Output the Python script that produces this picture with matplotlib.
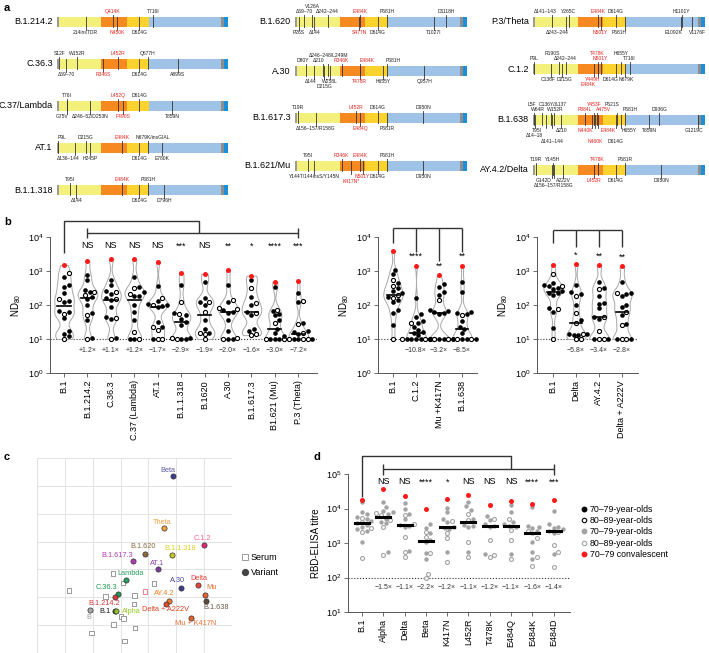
import re

import matplotlib
matplotlib.use("Agg")
import matplotlib.pyplot as plt
import numpy as np
from matplotlib.lines import Line2D
from matplotlib.ticker import LogLocator, NullLocator

plt.rcParams["font.family"] = ["Liberation Sans", "DejaVu Sans"]
plt.rcParams["axes.linewidth"] = 0.7

W, H = 709, 653

# ---------------- panel a: spike maps ----------------
SPIKE_LEN = 1273
DOMAIN_EDGES = [0, 14, 330, 520, 685, 1220, 1245, 1273]
DOMAIN_COLORS = ["#9b9b9b", "#f3f17c", "#f68a20", "#fcd32e", "#9ec3e7", "#8e8e8e", "#1c8fd8"]
RBD_RANGE = (319, 541)

MUT_B1_214_2 = ["214insTDR", "Q414K", "N450K", "D614G", "T716I"]
MUT_C36_3 = ["S12F", "Δ69–70", "W152R", "R346S", "L452R", "D614G", "Q677H", "A899S"]
MUT_C37 = ["G75V", "T76I", "Δ246–52/D253N", "L452Q", "F490S", "D614G", "T859N"]
MUT_AT1 = ["P9L", "Δ136–144", "D215G", "H245P", "E484K", "D614G", "N679K/insGIAL", "E780K"]
MUT_B1_1_318 = ["T95I", "Δ144", "E484K", "D614G", "P681H", "D796H"]
MUT_B1_620 = ["P26S", "Δ69–70", "V126A", "Δ144", "Δ242–244", "S477N", "E484K", "D614G",
              "P681H", "T1027I", "D1118H"]
MUT_A30 = ["D80Y", "Δ144", "Δ210", "D215G", "Δ246–248/L249M", "W258L", "R346K", "T478R",
           "E484K", "H655Y", "P681H", "Q957H"]
MUT_B1_617_3 = ["T19R", "Δ156–157/R158G", "L452R", "E484Q", "D614G", "P681R", "D950N"]
MUT_MU = ["T95I", "Y144T/144insS/Y145N", "R346K", "K417N*", "E484K", "N501Y", "D614G",
          "P681H", "D950N"]
MUT_P3 = ["Δ141–143", "Δ243–244", "Y265C", "E484K", "N501Y", "D614G", "P681H", "E1092K",
          "H1101Y", "V1176F"]
MUT_C1_2 = ["P9L", "C136F", "R190S", "D215G", "Δ242–244", "Y449H", "T478K", "E484K", "N501Y",
            "D614G", "H655Y", "N679K", "T716I"]
MUT_B1_638 = ["L5F", "Δ14–18", "W64R", "T95I", "C136Y/Δ137", "Δ141–144", "W152R", "Δ210",
              "P384L", "N440K", "Y453F", "N460K", "A475V", "E484K", "D614G", "P621S", "H655Y",
              "P681H", "T859N", "D936G", "G1219C"]
MUT_AY4_2 = ["T19R", "G142D", "Y145H", "Δ156–157/R158G", "A222V", "L452R", "T478K", "D614G",
             "P681R", "D950N"]

# label side (u/d) and tier for each mutation, same order as above
PLACE = {
    "B.1.214.2": ["d1", "u1", "d1", "d1", "u1"],
    "C.36.3": ["u1", "d1", "u1", "d1", "u1", "d1", "u1", "d1"],
    "C.37/Lambda": ["d1", "u1", "d1", "u1", "d1", "u1", "d1"],
    "AT.1": ["u1", "d1", "u1", "d1", "u1", "d1", "u1", "d1"],
    "B.1.1.318": ["u1", "d1", "u1", "d1", "u1", "d1"],
    "B.1.620": ["d1", "u1", "u2", "d1", "u1", "d1", "u1", "d1", "u1", "d1", "u1"],
    "A.30": ["u1", "d1", "u1", "d2", "u2", "d1", "u1", "d1", "u1", "d1", "u1", "d1"],
    "B.1.617.3": ["u1", "d1", "u1", "d1", "u1", "d1", "u1"],
    "B.1.621/Mu": ["u1", "d1", "u1", "d2", "u1", "d1", "d1", "u1", "d1"],
    "P.3/Theta": ["u1", "d1", "u1", "u1", "d1", "u1", "d1", "d1", "u1", "d1"],
    "C.1.2": ["u1", "d1", "u2", "d1", "u1", "d1", "u2", "d2", "u1", "d1", "u2", "d1", "u1"],
    "B.1.638": ["u2", "d2", "u1", "d1", "u2", "d3", "u1", "d1", "u1", "d1", "u2", "d3", "u1",
                "d1", "d3", "u2", "d1", "u1", "d1", "u1", "d1"],
    "AY.4.2/Delta": ["u1", "d1", "u1", "d2", "d1", "d1", "u1", "d1", "u1", "d1"],
}
NUDGE = {
    ("C.37/Lambda", "G75V"): -37, ("AT.1", "P9L"): 30, ("AT.1", "Δ136–144"): -52,
    ("AT.1", "N679K/insGIAL"): 37, ("A.30", "D80Y"): -22, ("A.30", "Δ210"): -35,
    ("A.30", "E484K"): 52, ("A.30", "P681H"): 44, ("A.30", "Δ144"): -30,
    ("P.3/Theta", "Δ141–143"): -52, ("P.3/Theta", "Δ243–244"): -65,
    ("P.3/Theta", "P681H"): -45, ("P.3/Theta", "E1092K"): -52, ("P.3/Theta", "V1176F"): 45,
    ("C.1.2", "R190S"): -45, ("C.1.2", "E484K"): -74, ("C.1.2", "D614G"): -40,
    ("C.1.2", "C136F"): -22, ("C.1.2", "D215G"): 15, ("C.1.2", "Y449H"): -8,
    ("C.1.2", "N679K"): 14, ("B.1.638", "L5F"): -12, ("B.1.638", "W64R"): -25,
    ("B.1.638", "C136Y/Δ137"): 12, ("B.1.638", "W152R"): 12, ("B.1.638", "P621S"): -37,
    ("B.1.638", "A475V"): 44, ("B.1.638", "P681H"): 37, ("B.1.638", "T95I"): -65,
    ("B.1.638", "N440K"): -52, ("B.1.638", "E484K"): 74, ("B.1.638", "H655Y"): 60,
    ("B.1.638", "G1219C"): -30, ("AY.4.2/Delta", "G142D"): -65, ("C.36.3", "S12F"): 10,
}

A_COLUMNS = [
    [("B.1.214.2", MUT_B1_214_2), ("C.36.3", MUT_C36_3), ("C.37/Lambda", MUT_C37),
     ("AT.1", MUT_AT1), ("B.1.1.318", MUT_B1_1_318)],
    [("B.1.620", MUT_B1_620), ("A.30", MUT_A30), ("B.1.617.3", MUT_B1_617_3),
     ("B.1.621/Mu", MUT_MU)],
    [("P.3/Theta", MUT_P3), ("C.1.2", MUT_C1_2), ("B.1.638", MUT_B1_638),
     ("AY.4.2/Delta", MUT_AY4_2)],
]

# ---------------- panel b: ND80 ----------------
B1_CATS = ["B.1", "B.1.214.2", "C.36.3", "C.37 (Lambda)", "AT.1", "B.1.1.318", "B.1620",
           "A.30", "B.1.617.3", "B1.621 (Mu)", "P.3 (Theta)"]
B1_70 = [
    [680, 390, 330, 220, 135, 125, 66, 63, 41, 17, 14, 12],
    [760, 550, 275, 235, 175, 150, 100, 60, 36, 11],
    [550, 390, 260, 205, 160, 140, 90, 45, 39, 11],
    [680, 345, 235, 190, 180, 100, 63, 36, 10, 10],
    [360, 130, 105, 100, 93, 88, 31, 22, 10],
    [390, 57, 50, 40, 32, 25, 11, 10, 10],
    [490, 158, 125, 100, 36, 20, 15],
    [390, 120, 71, 63, 60, 36, 17, 10, 10],
    [550, 175, 100, 63, 50, 20, 17],
    [345, 66, 53, 51, 36, 20, 15, 10, 10, 10, 10],
    [220, 125, 29, 17, 16, 14, 12, 10, 10, 10],
]
B1_80 = [
    [850, 150, 56, 10],
    [240, 200, 52, 10],
    [245, 148, 42, 10],
    [310, 205, 16, 10],
    [165, 100, 23, 18, 10, 10],
    [126, 53, 11, 10],
    [120, 63, 15, 14, 10],
    [140, 80, 76, 10.5, 10],
    [310, 112, 60, 14, 13],
    [71, 29, 10, 10],
    [130, 27, 15, 10, 10, 10],
]
B1_CONV = [1500, 1950, 2250, 2200, 1900, 850, 820, 1100, 730, 490, 510]
B1_FOLD = ["", "+1.2×", "+1.1×", "+1.2×", "−1.7×", "−2.9×", "−1.9×", "−2.0×", "−1.6×",
           "−3.0×", "−7.2×"]
B1_SIG = ["", "NS", "NS", "NS", "NS", "***", "NS", "**", "*", "****", "***"]

B2_CATS = ["B.1", "C.1.2", "Mu +K417N", "B.1.638"]
B2_70 = [
    [1070, 800, 440, 325, 260, 220, 175, 140, 120, 71, 57, 26],
    [165, 53, 45, 34, 29, 23, 18, 16, 15, 13, 10, 10, 10, 10, 10],
    [405, 345, 235, 195, 71, 65, 62, 57, 55, 10, 10, 10, 10],
    [490, 245, 63, 60, 55, 34, 23, 20, 15, 10, 10, 10, 10],
]
B2_80 = [
    [550, 360, 195, 165, 10],
    [30, 10, 10, 10],
    [140, 10, 10, 10],
    [51, 10, 10, 10],
]
B2_CONV = [4000, 1450, 760, 1450]
B2_FOLD = ["", "−10.8×", "−3.2×", "−8.5×"]
B2_SIG = ["", "****", "**", "**"]

B3_CATS = ["B.1", "Delta", "AY.4.2", "Delta + A222V"]
B3_70 = [
    [435, 400, 360, 325, 300, 260, 230, 220, 200, 80, 63, 21],
    [390, 235, 215, 100, 36, 14, 14, 13, 13],
    [465, 310, 190, 112, 110, 80, 45, 38, 10, 10],
    [490, 220, 210, 180, 100, 85, 51, 27, 10, 10],
]
B3_80 = [
    [810, 360, 76, 10],
    [190, 57, 29, 14, 10, 10],
    [290, 43, 17, 10, 10],
    [220, 63, 25, 10, 10],
]
B3_CONV = [1500, 1600, 1500, 1400]
B3_FOLD = ["", "−5.8×", "−3.4×", "−2.8×"]
B3_SIG = ["", "*", "**", "**"]

# ---------------- panel c: antigenic map ----------------
C_VARIANTS = ["B.1", "Alpha", "Beta", "Theta", "C.1.2", "B.1.620", "B.1.1.318", "B.1.617.3",
              "AT.1", "Lambda", "A.30", "Delta", "Mu", "C.36.3", "B.1.214.2", "AY.4.2",
              "B.1.638", "Delta + A222V", "Mu + K417N", "B"]
C_VAR_X = [2.80, 2.85, 4.89, 4.57, 5.99, 3.87, 4.86, 3.43, 4.34, 3.21, 5.16, 5.77, 6.04, 2.89,
           2.80, 4.74, 6.07, 4.62, 5.53, 1.89]
C_VAR_Y = [1.49, 1.49, 6.34, 4.48, 3.88, 3.57, 3.51, 3.30, 3.00, 2.63, 2.34, 2.44, 2.09, 2.11,
           2.00, 1.88, 1.87, 1.75, 1.27, 1.56]
C_MARKER_COLORS = ["#222222", "#8ec02a", "#3a3d8f", "#f4a23c", "#e0287a", "#8a6a3c", "#c8c820",
                   "#b03ab0", "#7a3a9a", "#22a060", "#3d3d8a", "#e8403a", "#e8602a", "#1a9a50",
                   "#d83838", "#f07828", "#5a4a3a", "#e04a2a", "#e8602a", "#aaaaaa"]
C_LABEL_COLORS = ["#111111", "#9ac820", "#5a5aa8", "#f4a23c", "#ff6090", "#8a6a3c", "#e0d020",
                  "#b03ab0", "#8a4aa8", "#22a060", "#4a4a9a", "#e8403a", "#f07030", "#1a9a50",
                  "#d83838", "#f08020", "#6a5a4a", "#e04020", "#f07030", "#999999"]
C_SERA_X = [1.14, 2.46, 2.73, 3.08, 4.19, 3.87, 3.50, 3.49, 3.02, 3.11, 2.75, 3.52, 1.95, 3.14]
C_SERA_Y = [2.24, 2.03, 2.86, 2.52, 2.50, 2.21, 2.06, 1.75, 1.31, 1.24, 1.02, 0.90, 0.72, 0.44]
C_SERA_EDGE = ["#999999"] * 5 + ["#f08090"] + ["#999999"] * 8

# label offsets in points
C_LABEL_OFFSET = [(-7, 0), (11, 0), (-3.6, 4.3), (-1.2, 4.3), (-1.2, 4.8), (-1.2, 4.8),
                  (5.8, 4.6), (-11, 3.8), (-0.5, 4.6), (2.9, 4.6), (-2.6, 5.0), (0.7, 5.0),
                  (4.3, 5.0), (-7.9, 4.6), (-7.7, -4.3), (-3.4, 5.3), (7.4, -5.0), (0, -3.6),
                  (3.6, -4.3), (-0.7, -5.5)]

# ---------------- panel d: RBD-ELISA ----------------
D_CATS = ["B.1", "Alpha", "Delta", "Beta", "K417N", "L452R", "T478K", "E484Q", "E484K", "E484D"]
D_70 = [
    [15100, 7800, 6800, 5750, 4900, 4200, 3700, 3300, 2950, 2600, 2250, 1050],
    [15100, 11200, 8500, 7900, 6800, 5100, 4000, 3800, 560],
    [14000, 10000, 6800, 4800, 3300, 3100, 2950, 590],
    [3450, 2750, 1900, 1230, 1100, 500, 350],
    [10500, 7700, 5100, 4000, 2950, 2700, 2500, 540],
    [15800, 11500, 9000, 5100, 3300, 3150, 2950, 560],
    [12600, 6200, 4700, 3450, 3150, 2950, 470],
    [12600, 7800, 4000, 3450, 3150, 2950, 470],
    [11200, 3150, 2950, 2700, 2250, 2000, 1100, 560, 350],
    [8200, 3450, 2950, 2800, 2600, 2250, 2000, 470],
]
D_80 = [
    [5400, 4000, 2800, 2150, 370],
    [7250, 6500, 4700, 2900, 450],
    [6500, 3500, 1500, 560, 400],
    [2040, 1500, 500, 130, 100],
    [4400, 1900, 1380, 275],
    [6750, 4700, 1100, 400],
    [5100, 1230, 450, 400],
    [5100, 2450, 1230, 350],
    [2250, 1400, 400, 220],
    [2150, 870, 560, 205],
]
D_CONV = [17800, 37000, 23000, 10000, 19000, 24500, 12600, 16600, 13500, 17800]
D_FOLD = ["", "−1.5×", "−1.1×", "−2.2×", "−1.2×", "−1.1×", "−1.2×", "−1.1×", "−1.6×", "−1.4×"]
D_SIG = ["", "NS", "NS", "****", "*", "NS", "NS", "NS", "****", "***"]

RED = "#ff1a1a"
GREY = "#a3a3a3"


def frac_box(x0, y0, x1, y1):
    return [x0 / W, 1 - y1 / H, (x1 - x0) / W, (y1 - y0) / H]


def draw_spike(fig, name, muts, x0, x1, yc):
    ax = fig.add_axes(frac_box(x0, yc - 5, x1, yc + 5))
    ax.set_xlim(0, SPIKE_LEN)
    ax.set_ylim(0, 1)
    ax.axis("off")
    for lo, hi, col in zip(DOMAIN_EDGES[:-1], DOMAIN_EDGES[1:], DOMAIN_COLORS):
        ax.barh(0.5, hi - lo, left=lo, height=1, color=col, linewidth=0)
    for mut, place in zip(muts, PLACE[name]):
        pos = int(re.search(r"\d+", mut).group())
        red = RBD_RANGE[0] <= pos <= RBD_RANGE[1]
        side, tier = place[0], int(place[1])
        if side == "u":
            ax.plot([pos, pos], [0, 1.25], color="#333333", lw=0.6, clip_on=False)
        else:
            ax.plot([pos, pos], [-0.25, 1], color="#333333", lw=0.6, clip_on=False)
        off = 2.0 + 4.0 * (tier - 1)
        ax.annotate(mut, xy=(pos + NUDGE.get((name, mut), 0), 1 if side == "u" else 0),
                    xytext=(0, off if side == "u" else -off), textcoords="offset points",
                    ha="center", va="bottom" if side == "u" else "top", fontsize=3.6,
                    color="#e8231f" if red else "#222222", annotation_clip=False)
    ax.annotate(name, xy=(0, 0.5), xytext=(-3, 0), textcoords="offset points",
                ha="right", va="center", fontsize=6.5, annotation_clip=False)


def swarm_offsets(logv, ppu_x, ppu_y, diam):
    placed = []
    out = np.zeros(len(logv))
    for i in np.argsort(logv):
        y = logv[i] * ppu_y
        cand = 0.0
        for k in range(80):
            step = ((k + 1) // 2) * diam * 0.5
            cand = step if k % 2 == 1 else -step
            if all((cand - px) ** 2 + (y - py) ** 2 >= (diam * 0.95) ** 2 for px, py in placed):
                break
        placed.append((cand, y))
        out[i] = cand / ppu_x
    return out


def draw_violin(ax, x, vals, half_width):
    lv = np.log10(vals)
    grid = np.linspace(lv.min(), lv.max(), 150)
    bw = 0.17
    dens = np.exp(-0.5 * ((grid[:, None] - lv[None, :]) / bw) ** 2).sum(axis=1)
    w = dens / dens.max() * half_width
    ax.fill_betweenx(10 ** grid, x - w, x + w, facecolor="white", edgecolor="#a8a8a8",
                     lw=0.7, zorder=1)


def style_axis(ax, cats, ylabel):
    for s in ("top", "right"):
        ax.spines[s].set_visible(False)
    for s in ("left", "bottom"):
        ax.spines[s].set_color("#555555")
    ax.set_yscale("log")
    ax.yaxis.set_major_locator(LogLocator(base=10, numticks=10))
    ax.yaxis.set_minor_locator(NullLocator())
    ax.set_xticks(range(len(cats)))
    ax.set_xticklabels(cats, rotation=90, fontsize=6.5)
    ax.tick_params(axis="both", length=3, width=0.6, color="#555555", labelsize=6.5, pad=2)
    ax.set_ylabel(ylabel, fontsize=7, labelpad=3)


def scatter_groups(ax, x, v70, v80, ppu_x, ppu_y, fill_col, edge_col, diam, size):
    vals = np.array(v70 + v80, dtype=float)
    filled = np.array([True] * len(v70) + [False] * len(v80))
    offs = swarm_offsets(np.log10(vals), ppu_x, ppu_y, diam)
    ax.scatter(x + offs[filled], vals[filled], s=size, color=fill_col, lw=0, zorder=3,
               clip_on=False)
    ax.scatter(x + offs[~filled], vals[~filled], s=size * 0.8, facecolor="white",
               edgecolor=edge_col, lw=0.8, zorder=3, clip_on=False)
    return vals


def nd80_panel(ax, cats, v70, v80, conv, fold, xlim):
    ax.set_xlim(*xlim)
    for i in range(len(cats)):
        draw_violin(ax, i, np.array(v70[i] + v80[i] + [conv[i]], dtype=float), 0.42)
        vals = scatter_groups(ax, i, v70[i], v80[i], 23.2, 34, "black", "black", 4.6, 11)
        ax.scatter([i], [conv[i]], s=13, color=RED, lw=0, zorder=4, clip_on=False)
        med = np.median(vals)
        ax.plot([i - 0.28, i + 0.28], [med, med], color="black", lw=1.2, zorder=5)
        if fold[i]:
            ax.text(i, 10 ** 0.65, fold[i], ha="center", va="center", fontsize=5,
                    color="#333333")
    ax.axhline(10, ls=(0, (1, 1.6)), color="#333333", lw=0.8, zorder=0)
    style_axis(ax, cats, "ND$_\\mathregular{80}$")
    ax.set_ylim(1, 1e4)


def bracket_line(ax, xs, ys):
    ax.plot(xs, ys, color="#333333", lw=1.0, clip_on=False, solid_capstyle="butt")


fig = plt.figure(figsize=(W / 100, H / 100), dpi=100)

# panel a
A_COL_X = [(57, 228), (295, 467), (533, 705)]
A_ROW_Y = [[22, 64, 106, 148, 190], [22, 71, 118, 166], [22, 69, 120, 170]]
for col, (x0, x1), rows in zip(A_COLUMNS, A_COL_X, A_ROW_Y):
    for (name, muts), yc in zip(col, rows):
        draw_spike(fig, name, muts, x0, x1, yc)

# panel b, left
ax1 = fig.add_axes(frac_box(50, 237, 317, 373))
nd80_panel(ax1, B1_CATS, B1_70, B1_80, B1_CONV, B1_FOLD, (-0.6, 10.8))
bracket_line(ax1, [0, 0, 5.75, 5.75], [10 ** 3.53, 10 ** 4.47, 10 ** 4.47, 10 ** 4.12])
bracket_line(ax1, [1, 10], [10 ** 4.12] * 2)
bracket_line(ax1, [1, 1], [10 ** 3.97, 10 ** 4.25])
bracket_line(ax1, [10, 10], [10 ** 3.97, 10 ** 4.25])
for i, s in enumerate(B1_SIG):
    if s:
        ax1.text(i, 10 ** 3.74, s, ha="center", va="center", fontsize=6.5)

# panel b, middle
ax2 = fig.add_axes(frac_box(378, 237, 477, 373))
nd80_panel(ax2, B2_CATS, B2_70, B2_80, B2_CONV, B2_FOLD, (-0.65, 3.65))
top2 = 10 ** 4.26
bracket_line(ax2, [0, 3], [top2, top2])
for i, c in enumerate(B2_CONV):
    star_y = np.log10(c) + 0.27
    end = np.log10(c) + 0.22 if i == 0 else star_y + 0.14
    bracket_line(ax2, [i, i], [10 ** end, top2])
    if B2_SIG[i]:
        ax2.text(i, 10 ** star_y, B2_SIG[i], ha="center", va="center", fontsize=6.5)

# panel b, right
ax3 = fig.add_axes(frac_box(537, 237, 638, 373))
nd80_panel(ax3, B3_CATS, B3_70, B3_80, B3_CONV, B3_FOLD, (-0.7, 3.7))
top3 = 10 ** 4.2
bracket_line(ax3, [0, 3], [top3, top3])
for i, c in enumerate(B3_CONV):
    bracket_line(ax3, [i, i], [10 ** (3.82 if i == 0 else 3.7), top3])
    if B3_SIG[i]:
        ax3.text(i, 10 ** (np.log10(c) + 0.27), B3_SIG[i], ha="center", va="center",
                 fontsize=6.5)

# panel c
axc = fig.add_axes(frac_box(37, 458, 232, 653))
axc.set_xlim(0, 7)
axc.set_ylim(0, 7)
axc.set_xticks(range(8))
axc.set_yticks(range(8))
axc.tick_params(length=0, labelbottom=False, labelleft=False)
axc.grid(True, color="#e3e3e3", lw=0.7)
for s in axc.spines.values():
    s.set_visible(False)
axc.scatter(C_SERA_X, C_SERA_Y, marker="s", s=10, facecolor="white", edgecolor=C_SERA_EDGE,
            lw=0.7, zorder=2, clip_on=False)
for name, x, y, mc, lc, (dx, dy) in zip(C_VARIANTS, C_VAR_X, C_VAR_Y, C_MARKER_COLORS,
                                        C_LABEL_COLORS, C_LABEL_OFFSET):
    axc.scatter([x], [y], s=14, color=mc, edgecolor="#333333", lw=0.5, zorder=3)
    axc.annotate(name, xy=(x, y), xytext=(dx, dy), textcoords="offset points", ha="center",
                 va="center", fontsize=5.3, color=lc, zorder=4)
c_handles = [Line2D([], [], marker="s", ls="", markersize=4.2, markerfacecolor="white",
                    markeredgecolor="#999999", markeredgewidth=0.7),
             Line2D([], [], marker="o", ls="", markersize=4.2, color="#444444")]
fig.legend(c_handles, ["Serum", "Variant"], loc="center left",
           bbox_to_anchor=(232 / W, 1 - 565 / H), frameon=False, fontsize=6.5,
           handletextpad=0.2, labelspacing=0.7, handlelength=1.0)

# panel d
axd = fig.add_axes(frac_box(348, 474, 570, 612))
axd.set_xlim(-0.66, 9.77)
for i in range(len(D_CATS)):
    vals = scatter_groups(axd, i, D_70[i], D_80[i], 21.3, 34.5, GREY, GREY, 4.6, 10)
    axd.scatter([i], [D_CONV[i]], s=13, color=RED, lw=0, zorder=4)
    med = np.median(vals)
    axd.plot([i - 0.33, i + 0.33], [med, med], color="black", lw=2.2, zorder=5)
    if D_FOLD[i]:
        axd.text(i, 10 ** 1.70, D_FOLD[i], ha="center", va="center", fontsize=5,
                 color="#333333")
    if D_SIG[i]:
        axd.text(i, 10 ** 4.77, D_SIG[i], ha="center", va="center", fontsize=6.5)
axd.axhline(100, ls=(0, (1, 1.6)), color="#333333", lw=0.8, zorder=0)
style_axis(axd, D_CATS, "RBD-ELISA titre")
axd.set_ylim(10, 1e5)
bracket_line(axd, [0, 0, 7, 7], [10 ** 4.33, 10 ** 5.52, 10 ** 5.52, 10 ** 5.14])
bracket_line(axd, [1, 9], [10 ** 5.14] * 2)
bracket_line(axd, [1, 1], [10 ** 4.97, 10 ** 5.29])
bracket_line(axd, [9, 9], [10 ** 4.97, 10 ** 5.29])

d_handles = [
    Line2D([], [], marker="o", ls="", markersize=3.2, color="black"),
    Line2D([], [], marker="o", ls="", markersize=3.2, markerfacecolor="white",
           markeredgecolor="black", markeredgewidth=0.8),
    Line2D([], [], marker="o", ls="", markersize=3.2, color=GREY),
    Line2D([], [], marker="o", ls="", markersize=3.2, markerfacecolor="white",
           markeredgecolor=GREY, markeredgewidth=0.8),
    Line2D([], [], marker="o", ls="", markersize=3.2, color=RED),
]
fig.legend(d_handles, ["70–79-year-olds", "80–89-year-olds", "70–79-year-olds",
                       "80–89-year-olds", "70–79 convalescent"],
           loc="center left", bbox_to_anchor=(572 / W, 1 - 532 / H), frameon=False,
           fontsize=6.3, handletextpad=0.1, labelspacing=0.28, handlelength=1.0)

for letter, x, y in [("a", 4, 8), ("b", 4, 222), ("c", 4, 457), ("d", 313, 457)]:
    fig.text(x / W, 1 - y / H, letter, fontsize=8, fontweight="bold", ha="left",
             va="center")

fig.savefig("out.png", dpi=100)
